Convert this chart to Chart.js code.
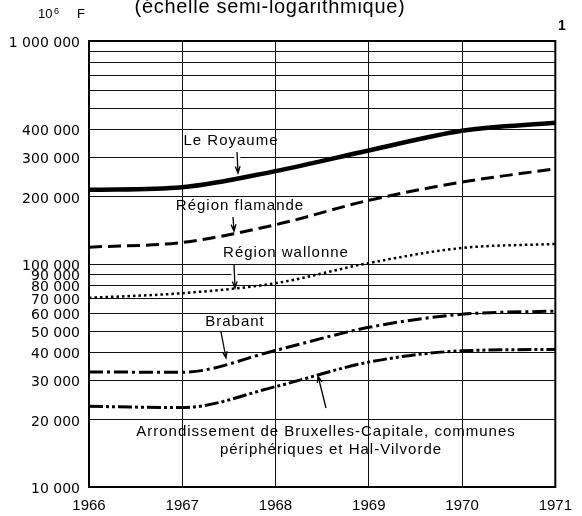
<!DOCTYPE html>
<html>
<head>
<meta charset="utf-8">
<script src="https://cdn.jsdelivr.net/npm/chart.js@4"></script>
<style>
  html, body { margin: 0; padding: 0; background: #fff; }
  #wrap { width: 582px; height: 516px; position: relative; }
</style>
</head>
<body>
<div id="wrap"><canvas id="chart"></canvas></div>
<script>
// --- data (10^6 F, semi-log) ---
const years = ['1966', '1967', '1968', '1969', '1970', '1971'];
const royaume = [215000, 221000, 261000, 323000, 396000, 430000];
const flamande = [119000, 125000, 150000, 193000, 233000, 267000];
const wallonne = [70500, 74000, 82000, 101000, 118000, 123000];
const brabant = [32800, 32700, 41000, 52000, 59500, 61500];
const bruxelles = [23000, 22700, 28200, 36300, 40800, 41400];

const gridValues = [10000, 20000, 30000, 40000, 50000, 60000, 70000, 80000, 90000,
  100000, 200000, 300000, 400000, 500000, 600000, 700000, 800000, 900000, 1000000];
const labelValues = [10000, 20000, 30000, 40000, 50000, 60000, 70000, 80000, 90000,
  100000, 200000, 300000, 400000, 1000000];

const FONT = "'Liberation Sans', Arial, sans-serif";
const TICK_FONT = "'DejaVu Sans', sans-serif";

function fmt(v) {
  return String(v).replace(/\B(?=(\d{3})+(?!\d))/g, ' ');
}

const notes = [
  { text: 'Le Royaume', x: 231, y: 141, arrow: [237, 152, 238, 173] },
  { text: 'Région flamande', x: 240, y: 206, arrow: [233, 217, 234, 231] },
  { text: 'Région wallonne', x: 286, y: 253, arrow: [234, 264, 235, 288] },
  { text: 'Brabant', x: 235, y: 322, arrow: [221, 332, 226, 358] },
  { text: 'Arrondissement de Bruxelles-Capitale, communes', x: 326, y: 432, arrow: [326, 408, 318, 376] },
  { text: 'périphériques et Hal-Vilvorde', x: 331, y: 450 },
];

function drawArrow(ctx, x1, y1, x2, y2) {
  const a = Math.atan2(y2 - y1, x2 - x1);
  const h = 7;
  ctx.save();
  // small white gap where the arrow crosses the grid
  ctx.strokeStyle = '#fff';
  ctx.lineWidth = 6;
  ctx.beginPath();
  ctx.moveTo(x1 + (x2 - x1) * 0.15, y1 + (y2 - y1) * 0.15);
  ctx.lineTo(x1 + (x2 - x1) * 0.7, y1 + (y2 - y1) * 0.7);
  ctx.stroke();
  ctx.strokeStyle = '#000';
  ctx.lineWidth = 1.3;
  ctx.beginPath();
  ctx.moveTo(x1, y1);
  ctx.lineTo(x2, y2);
  ctx.moveTo(x2 - h * Math.cos(a - 0.35), y2 - h * Math.sin(a - 0.35));
  ctx.lineTo(x2, y2);
  ctx.lineTo(x2 - h * Math.cos(a + 0.35), y2 - h * Math.sin(a + 0.35));
  ctx.stroke();
  ctx.restore();
}

const decorations = {
  id: 'decorations',
  beforeDraw(chart) {
    const ctx = chart.ctx;
    ctx.save();
    ctx.fillStyle = '#fff';
    ctx.fillRect(0, 0, chart.width, chart.height);
    ctx.restore();
  },
  afterDatasetsDraw(chart) {
    const ctx = chart.ctx;
    const a = chart.chartArea;
    ctx.save();
    // frame
    ctx.strokeStyle = '#000';
    ctx.lineWidth = 2;
    ctx.strokeRect(a.left, a.top, a.right - a.left, a.bottom - a.top);

    ctx.fillStyle = '#000';
    ctx.textBaseline = 'alphabetic';
    // title, cut at the top edge
    ctx.font = '20px ' + FONT;
    ctx.textAlign = 'center';
    ctx.letterSpacing = '0.7px';
    ctx.fillText('(échelle semi-logarithmique)', 270, 13);
    ctx.letterSpacing = '0px';
    // unit
    ctx.textAlign = 'left';
    ctx.font = '13px ' + FONT;
    ctx.fillText('10', 38, 18);
    ctx.font = '9px ' + FONT;
    ctx.fillText('6', 54, 14);
    ctx.font = '13px ' + FONT;
    ctx.fillText('F', 77, 18);
    // figure number
    ctx.font = 'bold 14px ' + FONT;
    ctx.textAlign = 'center';
    ctx.fillText('1', 562, 30);

    // annotations
    for (const n of notes) {
      if (n.arrow) drawArrow(ctx, ...n.arrow);
    }
    ctx.fillStyle = '#000';
    ctx.font = '15px ' + FONT;
    ctx.letterSpacing = '1px';
    ctx.textAlign = 'center';
    ctx.textBaseline = 'middle';
    for (const n of notes) ctx.fillText(n.text, n.x, n.y);
    ctx.restore();
  }
};

function series(data, width, dash) {
  return {
    data,
    borderColor: '#000',
    borderWidth: width,
    borderDash: dash,
    borderCapStyle: 'butt',
    pointRadius: 0,
    fill: false,
    cubicInterpolationMode: 'monotone',
  };
}

new Chart(document.getElementById('chart'), {
  type: 'line',
  data: {
    labels: years,
    datasets: [
      series(royaume, 4.5, []),
      series(flamande, 3, [13, 6]),
      series(wallonne, 2.5, [2.5, 3]),
      series(brabant, 3, [14, 4, 3, 4]),
      series(bruxelles, 3, [14, 3, 3, 3, 3, 3]),
    ],
  },
  options: {
    responsive: true,
    maintainAspectRatio: false,
    animation: false,
    layout: { padding: { top: 41, right: 17, left: 0, bottom: 0 } },
    plugins: { legend: { display: false }, tooltip: { enabled: false } },
    scales: {
      x: {
        type: 'category',
        offset: false,
        grid: { color: '#111', lineWidth: 1, drawTicks: false },
        border: { display: false },
        ticks: { color: '#000', font: { family: FONT, size: 15 }, padding: 10, maxRotation: 0, autoSkip: false },
        afterFit(scale) { scale.height = 29; },
      },
      y: {
        type: 'logarithmic',
        min: 10000,
        max: 1000000,
        grid: { color: '#111', lineWidth: 1, drawTicks: false },
        border: { display: false },
        afterBuildTicks(scale) { scale.ticks = gridValues.map(v => ({ value: v })); },
        ticks: {
          color: '#000',
          font: { family: TICK_FONT, size: 14 },
          padding: 9,
          labelOffset: 2,
          autoSkip: false,
          callback: (v) => labelValues.includes(v) ? fmt(v) : '',
        },
        afterFit(scale) { scale.width = 89; },
      },
    },
  },
  plugins: [decorations],
});
</script>
</body>
</html>
